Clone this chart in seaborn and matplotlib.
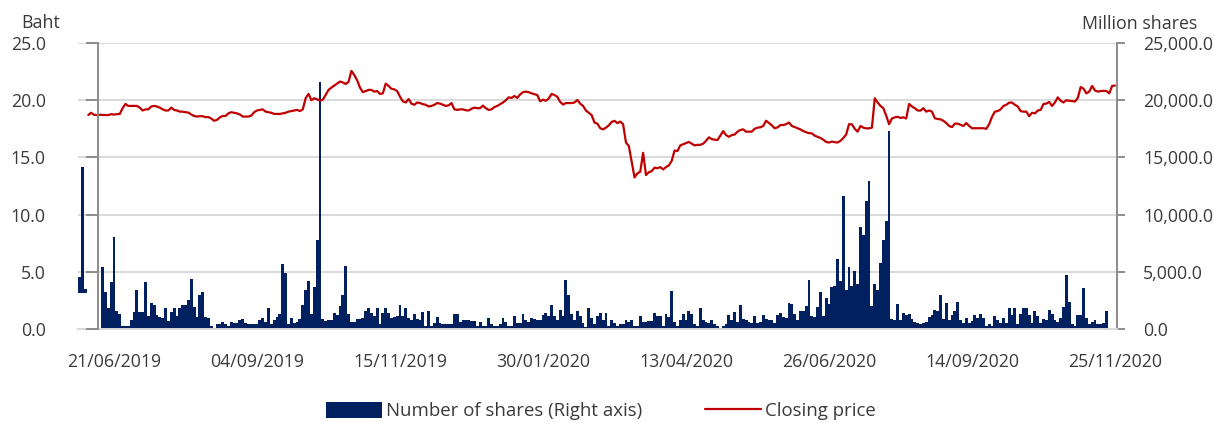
import numpy as np
import pandas as pd
import matplotlib
matplotlib.use("Agg")
import matplotlib.pyplot as plt
import seaborn as sns
from matplotlib.patches import Patch
from matplotlib.lines import Line2D

# Closing price (Baht), one value per trading day, starting on day 3
closing_price = [
    18.71, 18.90, 18.72, 18.70, 18.73, 18.71, 18.70, 18.70, 18.78, 18.74,
    18.78, 18.80, 19.30, 19.67, 19.50, 19.50, 19.50, 19.50, 19.35, 19.10,
    19.20, 19.20, 19.45, 19.50, 19.45, 19.35, 19.20, 19.10, 19.10, 19.35,
    19.15, 19.10, 19.00, 19.00, 18.95, 18.92, 18.75, 18.62, 18.57, 18.60,
    18.60, 18.52, 18.52, 18.40, 18.20, 18.28, 18.50, 18.62, 18.62, 18.85,
    18.95, 18.90, 18.85, 18.75, 18.57, 18.57, 18.57, 18.65, 18.95, 19.10,
    19.15, 19.20, 19.00, 18.95, 18.90, 18.80, 18.80, 18.80, 18.85, 18.90,
    19.00, 19.05, 19.10, 19.15, 19.05, 19.20, 20.17, 20.55, 20.00, 20.17,
    20.08, 19.96, 20.05, 20.46, 20.90, 21.10, 21.28, 21.45, 21.63, 21.55,
    21.42, 21.60, 22.56, 22.20, 21.75, 21.10, 20.70, 20.80, 20.90, 20.90,
    20.75, 20.80, 20.55, 20.60, 21.45, 21.25, 21.00, 20.95, 20.80, 20.30,
    19.90, 19.80, 20.10, 19.70, 19.60, 19.80, 19.75, 19.65, 19.60, 19.45,
    19.50, 19.60, 19.75, 19.70, 19.60, 19.50, 19.55, 19.75, 19.20, 19.15,
    19.20, 19.20, 19.12, 19.10, 19.25, 19.35, 19.30, 19.30, 19.53, 19.30,
    19.15, 19.20, 19.40, 19.50, 19.65, 19.80, 20.00, 20.25, 20.20, 20.37,
    20.20, 20.50, 20.70, 20.75, 20.70, 20.60, 20.52, 20.45, 19.90, 20.05,
    19.95, 20.15, 20.55, 20.45, 20.30, 19.85, 19.62, 19.75, 19.75, 19.75,
    19.80, 20.02, 19.70, 19.50, 19.10, 18.90, 18.70, 18.04, 17.95, 17.55,
    17.45, 17.60, 17.80, 18.10, 18.20, 18.00, 18.13, 17.90, 16.30, 16.00,
    14.60, 13.25, 13.60, 13.75, 15.40, 13.46, 13.70, 13.80, 14.10, 14.05,
    14.15, 13.95, 14.15, 14.30, 14.70, 15.60, 15.55, 16.05, 16.15, 16.25,
    16.35, 16.20, 16.05, 16.10, 16.10, 16.20, 16.45, 16.75, 16.60, 16.55,
    16.52, 16.90, 17.30, 16.95, 16.80, 16.95, 17.00, 17.25, 17.40, 17.45,
    17.25, 17.25, 17.25, 17.50, 17.60, 17.63, 17.75, 18.21, 18.00, 17.80,
    17.55, 17.62, 17.83, 17.83, 17.90, 18.05, 17.75, 17.65, 17.55, 17.45,
    17.30, 17.20, 17.12, 17.10, 16.90, 16.80, 16.70, 16.55, 16.35, 16.30,
    16.38, 16.33, 16.30, 16.45, 16.70, 17.00, 17.90, 17.90, 17.50, 17.25,
    17.75, 17.60, 17.54, 17.54, 17.60, 20.17, 19.80, 19.50, 19.30, 18.65,
    17.90, 18.40, 18.50, 18.55, 18.45, 18.50, 18.40, 19.67, 19.45, 19.30,
    19.10, 19.09, 19.30, 19.00, 19.10, 19.00, 18.42, 18.35, 18.33, 18.20,
    18.00, 17.75, 17.65, 17.95, 17.95, 17.85, 17.75, 18.00, 17.75, 17.55,
    17.55, 17.55, 17.55, 17.55, 17.50, 17.90, 18.55, 19.00, 19.05, 19.20,
    19.50, 19.60, 19.79, 19.79, 19.60, 19.45, 19.05, 19.00, 19.00, 18.60,
    18.90, 18.85, 19.10, 19.15, 19.67, 19.70, 19.85, 19.50, 19.80, 20.25,
    19.95, 19.80, 20.00, 19.95, 19.93, 19.88, 20.20, 21.15, 21.00, 20.60,
    20.75, 21.25, 20.85, 20.75, 20.80, 20.82, 20.80, 20.60, 21.25, 21.28,
]

# Number of shares traded (million shares), one value per trading day
shares_volume = [
    4550, 14190, 3530, 0, 0, 0, 0, 0, 5430, 3200,
    1800, 4100, 8000, 1600, 1300, 250, 250, 300, 800, 1500,
    3400, 1500, 1500, 4100, 1100, 2300, 2100, 1200, 1050, 1000,
    1800, 700, 1500, 1800, 1100, 1800, 2100, 2100, 2500, 4400,
    1900, 1050, 3000, 3200, 1050, 1000, 250, 100, 400, 400,
    600, 400, 300, 600, 550, 550, 750, 900, 500, 400,
    400, 400, 400, 750, 1000, 600, 1800, 400, 800, 1050,
    1300, 5700, 4900, 450, 1000, 500, 600, 900, 2100, 3400,
    4200, 1350, 3700, 7800, 21600, 900, 700, 800, 800, 1400,
    1200, 2000, 3000, 5500, 1350, 600, 600, 900, 900, 1000,
    1600, 1800, 1400, 1100, 1800, 450, 1400, 1800, 1400, 1000,
    1050, 1100, 2100, 1100, 1800, 1000, 750, 1350, 900, 750,
    1500, 300, 1600, 250, 500, 1050, 500, 450, 450, 450,
    450, 1300, 1300, 600, 800, 800, 750, 700, 700, 300,
    600, 300, 300, 1000, 450, 300, 300, 450, 950, 600,
    300, 300, 1100, 500, 500, 1350, 750, 600, 1000, 900,
    800, 800, 1200, 1400, 1100, 2100, 1100, 750, 1700, 1100,
    4300, 3000, 1350, 800, 1600, 1100, 500, 200, 1800, 1000,
    450, 1100, 1400, 750, 1400, 300, 800, 500, 250, 400,
    450, 800, 600, 800, 250, 250, 1100, 600, 600, 700,
    700, 1400, 1100, 1100, 250, 1300, 1050, 3300, 600, 300,
    750, 1300, 800, 1600, 1300, 450, 250, 1800, 750, 600,
    500, 750, 450, 250, 100, 250, 400, 1200, 750, 1500,
    600, 2100, 900, 750, 600, 500, 1100, 500, 600, 1200,
    900, 800, 750, 500, 1200, 1400, 1050, 1000, 2300, 2150,
    1350, 800, 1600, 1600, 2000, 4300, 1100, 1050, 1900, 3200,
    1100, 2700, 2150, 3700, 3750, 6150, 4200, 11650, 3450, 5400,
    3750, 5050, 3900, 8950, 8200, 11150, 12930, 2000, 3900, 3400,
    5800, 7760, 9460, 17340, 900, 800, 2150, 750, 1400, 1200,
    1350, 900, 600, 500, 450, 500, 600, 1050, 1200, 1700,
    1600, 2950, 900, 2300, 800, 1200, 1600, 2350, 800, 500,
    1000, 500, 700, 1200, 1000, 1350, 1000, 250, 450, 300,
    1100, 750, 500, 1000, 500, 1850, 1200, 1850, 450, 1350,
    1800, 1800, 1200, 500, 1600, 1100, 500, 900, 750, 1700,
    1350, 800, 600, 1000, 1900, 4700, 2350, 450, 250, 1200,
    1200, 3550, 1000, 400, 600, 800, 450, 400, 500, 1600,
    0, 0, 0,
]

tick_labels = ['21/06/2019', '04/09/2019', '15/11/2019', '30/01/2020',
               '13/04/2020', '26/06/2020', '14/09/2020', '25/11/2020']

price_start = 3      # price series begins on the 4th day
n_floating = 3       # first bars in the source sit on a raised floor
bar_floor = 3180
tick_start, tick_step = 12, 50

n = len(shares_volume)
price = np.full(n, np.nan)
price[price_start:price_start + len(closing_price)] = closing_price
df = pd.DataFrame({'day': np.arange(n), 'price': price, 'volume': shares_volume})

navy = '#002060'
red = '#C00000'
grid_c = '#d9d9d9'
spine_c = '#8c8c8c'
txt_c = '#3a3a3a'

sns.set_style('white')
plt.rcParams['font.family'] = ['Open Sans', 'DejaVu Sans']
plt.rcParams['font.size'] = 12.8

W, H = 1214, 423
fig = plt.figure(figsize=(W / 100, H / 100), dpi=100)
ax = fig.add_axes([78 / W, 1 - 329 / H, (1117 - 78) / W, (329 - 43) / H])
ax2 = ax.twinx()

# volume bars (right axis)
sns.barplot(data=df.iloc[n_floating:], x='day', y='volume', native_scale=True,
            width=1.0, color=navy, saturation=1, linewidth=0, errorbar=None,
            antialiased=False, ax=ax2)
early = df.iloc[:n_floating]
ax2.bar(early['day'], early['volume'] - bar_floor, bottom=bar_floor,
        width=1.0, color=navy, linewidth=0, antialiased=False)

# closing price (left axis)
sns.lineplot(data=df, x='day', y='price', color=red, linewidth=1.6,
             estimator=None, ax=ax)

ax.set_zorder(ax2.get_zorder() + 1)
ax.patch.set_visible(False)

ax.set_xlim(-0.6, 362.7)
ax.set_ylim(0, 25)
ax2.set_ylim(0, 25000)

ax.set_yticks(np.arange(0, 26, 5))
ax.set_yticklabels([f'{v:.1f}' for v in np.arange(0, 26, 5)])
ax2.set_yticks(np.arange(0, 25001, 5000))
ax2.set_yticklabels([f'{v:,.1f}' for v in np.arange(0, 25001, 5000)])

ax.set_xticks([tick_start + tick_step * k for k in range(len(tick_labels))])
ax.set_xticklabels(tick_labels)

for a in (ax, ax2):
    a.set_xlabel('')
    a.set_ylabel('')
    a.grid(False)

ax2.yaxis.grid(True, color=grid_c, linewidth=1.4)
ax2.set_axisbelow(True)

for s in ('top', 'right', 'bottom'):
    ax.spines[s].set_visible(False)
ax.spines['left'].set_position(('data', 6.4))
ax.spines['left'].set_color(spine_c)
ax.spines['left'].set_linewidth(1.4)

for s in ('top', 'left'):
    ax2.spines[s].set_visible(False)
ax2.spines['right'].set_color(spine_c)
ax2.spines['right'].set_linewidth(1.4)
ax2.spines['bottom'].set_color(grid_c)
ax2.spines['bottom'].set_linewidth(1.4)

ax.tick_params(axis='y', left=True, direction='out', length=8.6, width=1.4,
               color=spine_c, pad=29, labelcolor=txt_c, labelsize=12.8)
ax2.tick_params(axis='y', right=True, direction='out', length=5.8, width=1.4,
                color=spine_c, pad=13, labelcolor=txt_c, labelsize=12.8)
ax.tick_params(axis='x', bottom=True, length=0, pad=17, labelcolor=txt_c, labelsize=12.8)

fig.text(21 / W, 1 - 28 / H, 'Baht', color=txt_c, fontsize=12.8, va='baseline')
fig.text(1082 / W, 1 - 29 / H, 'Million shares', color=txt_c, fontsize=12.8, va='baseline')

handles = [Patch(facecolor=navy, edgecolor='none', label='Number of shares (Right axis)'),
           Line2D([], [], color=red, linewidth=1.6, label='Closing price')]
fig.legend(handles=handles, loc='center', bbox_to_anchor=(601 / W, 1 - 411 / H),
           ncol=2, frameon=False, handlelength=3.0, handleheight=1.0,
           handletextpad=0.2, columnspacing=3.4, fontsize=13.4, labelcolor=txt_c)

fig.savefig('out.png', dpi=100, facecolor='white')
